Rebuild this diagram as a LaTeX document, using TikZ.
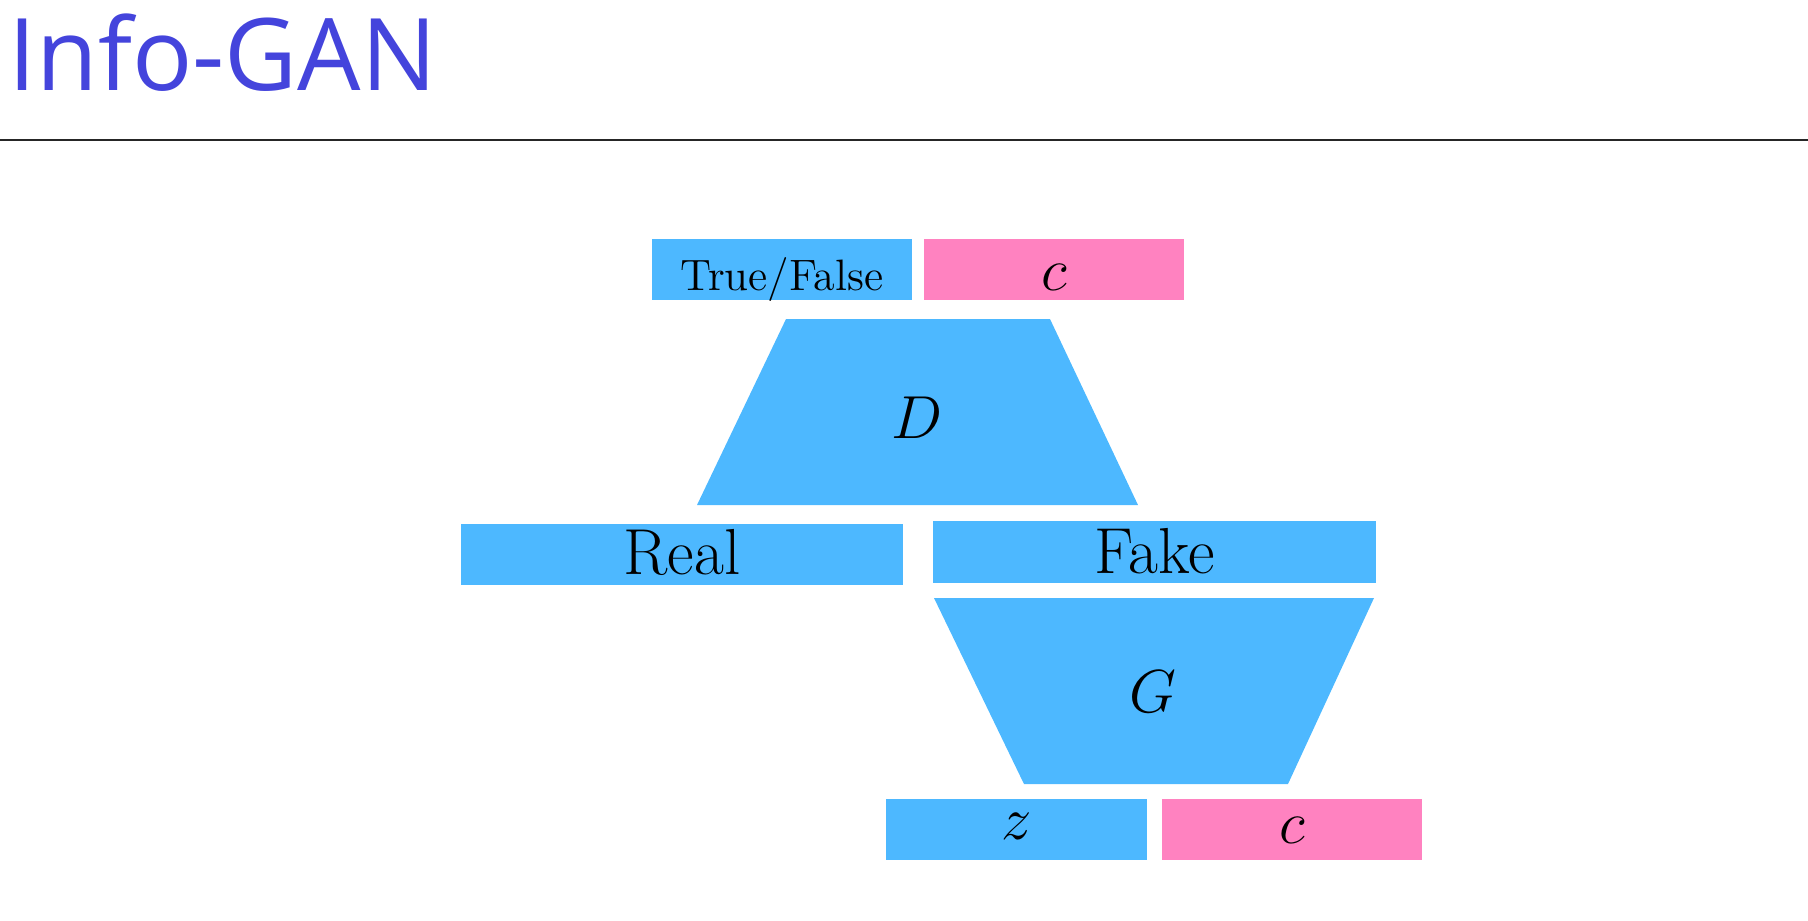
\documentclass[tikz,border=0pt]{standalone}
\usepackage{fontspec}
\newfontfamily\titlefont{Open Sans}
\definecolor{netblue}{RGB}{77, 184, 255}
\definecolor{codepink}{RGB}{255, 130, 192}
\definecolor{titleblue}{RGB}{68, 68, 220}

\begin{document}
\begin{tikzpicture}[x=0.01cm, y=-0.01cm,
		layer/.style={fill=netblue, inner sep=0pt, font=\fontsize{18}{20}\selectfont},
		bar/.style={layer, rectangle, minimum height=0.61cm, text height=0.517cm, text depth=0.093cm},
		codebar/.style={bar, fill=codepink},
		netlabel/.style={inner sep=0pt, font=\fontsize{18}{20}\selectfont}]
	
	\useasboundingbox (0,0) rectangle (1808,920);
	
	% Title and rule
	\node[anchor=base west, inner sep=0pt, text=titleblue, font=\titlefont\fontsize{28.5}{30}\selectfont] (title) at (8,90) {Info-GAN};
	\coordinate (ruleL) at (0,140);
	\coordinate (ruleR) at (1808,140);
	\draw[line width=0.7pt, color=black!85] (ruleL) -- (ruleR);
	
	% Discriminator outputs
	\node[bar, minimum width=2.6cm, font=\fontsize{12.5}{14}\selectfont] (truefalse) at (782,269.5) {True/False};
	\node[codebar, minimum width=2.6cm] (cD) at (1054,269.5) {$c$};
	
	% Discriminator
	\fill[netblue] (786,319) -- (1050,319) -- (1138,505) -- (697,505) -- cycle;
	\node[netlabel] (D) at (917,417.5) {$D$};
	
	% Inputs of D
	\node[bar, minimum width=4.42cm, font=\fontsize{18.5}{20}\selectfont, text height=0.5cm, text depth=0.11cm] (real) at (682,554.5) {Real};
	\node[bar, minimum width=4.43cm, font=\fontsize{18.5}{20}\selectfont, text height=0.52cm, text depth=0.1cm] (fake) at (1154.5,552) {Fake};
	
	% Generator
	\fill[netblue] (934,598) -- (1374,598) -- (1288,784) -- (1024,784) -- cycle;
	\node[netlabel] (G) at (1153,691.5) {$G$};
	
	% Inputs of G
	\node[bar, minimum width=2.61cm, text height=0.41cm, text depth=0.2cm] (z) at (1016.5,829) {$z$};
	\node[codebar, minimum width=2.6cm, text height=0.45cm, text depth=0.16cm] (cG) at (1292,829) {$c$};
	
\end{tikzpicture}
\end{document}
